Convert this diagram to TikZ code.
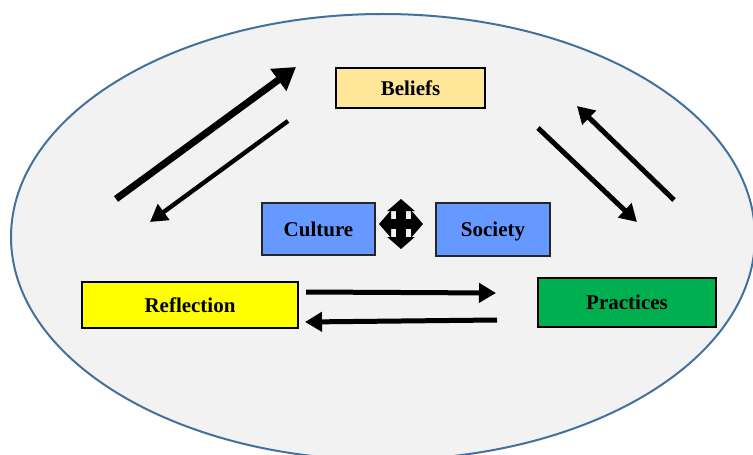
\documentclass[tikz,border=0pt]{standalone}
\usepackage{fontspec}
\setmainfont{Liberation Serif}
\usetikzlibrary{arrows.meta,positioning}
\definecolor{rcInk}{HTML}{000000}
\definecolor{rcEdge}{HTML}{41719C}
\definecolor{rcCloud}{HTML}{F2F2F2}
\definecolor{rcBelief}{HTML}{FFE699}
\definecolor{rcBlue}{HTML}{6699FF}
\definecolor{rcYellow}{HTML}{FFFF00}
\definecolor{rcGreen}{HTML}{00B050}
\tikzset{
  box/.style={draw=rcInk, line width=1pt, inner sep=2pt, text height=1.7ex, text depth=0.1ex, font=\fontsize{10.5}{12}\selectfont\bfseries, align=center},
  boxO/.style={box, fill=rcBelief},
  boxB/.style={box, fill=rcBlue, draw=rcInk!85},
  boxY/.style={box, fill=rcYellow},
  boxG/.style={box, fill=rcGreen},
  arr/.style={-{Triangle[length=8.5pt, width=9.5pt]}, line width=2.5pt, draw=rcInk},
  arrBig/.style={-{Triangle[length=11pt, width=13pt]}, line width=3.5pt, draw=rcInk},
  cross/.style={{Triangle[length=6pt, width=13.5pt]}-{Triangle[length=6pt, width=13.5pt]}, line width=5pt, draw=rcInk},
}

\begin{document}
\begin{tikzpicture}[x=0.5pt, y=-0.5pt]
            \useasboundingbox (0,0) rectangle (753,454);
            \clip (0,0) rectangle (753,454);
            \draw[rcEdge, fill=rcCloud, line width=1pt] (383,237) ellipse [x radius=186pt, y radius=111.5pt];
            \node[boxO, minimum width=74.5pt, minimum height=20pt] (beliefs) at (410.5,88) {Beliefs};
            \node[boxB, minimum width=56.5pt, minimum height=26pt] (culture) at (318.5,229) {Culture};
            \node[boxB, minimum width=57pt, minimum height=26.5pt] (society) at (493,229.5) {Society};
            \node[boxY, minimum width=108pt, minimum height=23pt] (reflection) at (190,305) {Reflection};
            \node[boxG, minimum width=89pt, minimum height=24.5pt] (practices) at (627,302.5) {Practices};
            \coordinate (hub) at (401,224);
            \draw[cross] ([xshift=-11pt]hub) -- ([xshift=11pt]hub);
            \draw[cross] ([yshift=12.5pt]hub) -- ([yshift=-12.5pt]hub);
            \coordinate (upTail) at (116,199);
            \coordinate (upHead) at (296,67);
            \coordinate (dnTail) at (288,121);
            \coordinate (dnHead) at (150,222);
            \coordinate (rdTail) at (538,128);
            \coordinate (rdHead) at (637,222);
            \coordinate (ruTail) at (674,200);
            \coordinate (ruHead) at (577,106);
            \coordinate (fwTail) at (306,292);
            \coordinate (fwHead) at (496,293);
            \coordinate (bkTail) at (497,320);
            \coordinate (bkHead) at (305,322);
            \draw[arrBig] (upTail) -- (upHead);
            \draw[arr, line width=2.2pt] (dnTail) -- (dnHead);
            \draw[arr] (rdTail) -- (rdHead);
            \draw[arr] (ruTail) -- (ruHead);
            \draw[arr] (fwTail) -- (fwHead);
            \draw[arr] (bkTail) -- (bkHead);
        \end{tikzpicture}
\end{document}
